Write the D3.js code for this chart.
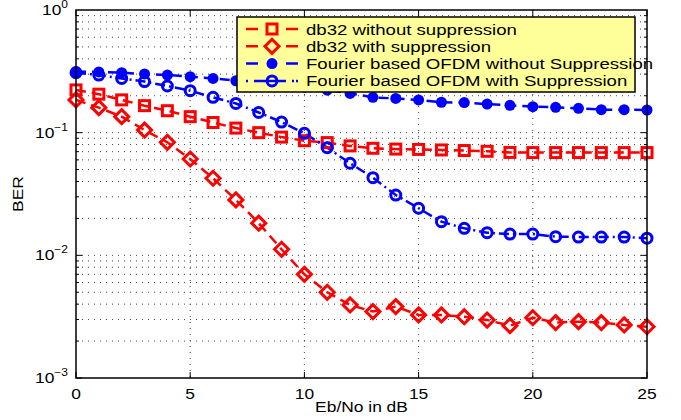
<!DOCTYPE html>
<html>
<head>
<script src="https://d3js.org/d3.v7.min.js"></script>
<style>
  body { margin: 0; background: #fff; }
  text { font-family: "Liberation Sans", Arial, sans-serif; fill: #000; }
</style>
</head>
<body>
<script>
// Eb/No values in dB
var ebno = d3.range(0, 26);

// BER
var db32NoSupp = [0.223, 0.206, 0.185, 0.166, 0.151, 0.135, 0.121, 0.109, 0.100, 0.092,
                  0.086, 0.083, 0.078, 0.0746, 0.0735, 0.0730, 0.0723, 0.0715, 0.0705, 0.0690,
                  0.0688, 0.0688, 0.0688, 0.0688, 0.0688, 0.0688];
var db32Supp = [0.185, 0.160, 0.135, 0.105, 0.0835, 0.061, 0.0425, 0.0283, 0.0183, 0.0112,
                0.0070, 0.0050, 0.00394, 0.00348, 0.00382, 0.00327, 0.00327, 0.00316, 0.00297, 0.00267,
                0.0031, 0.00283, 0.00288, 0.00283, 0.00271, 0.00262];
var fourierNoSupp = [0.315, 0.313, 0.308, 0.301, 0.295, 0.286, 0.277, 0.265, 0.255, 0.245,
                     0.235, 0.222, 0.209, 0.194, 0.190, 0.185, 0.177, 0.176, 0.171, 0.167,
                     0.163, 0.161, 0.158, 0.154, 0.154, 0.153];
var fourierSupp = [0.308, 0.295, 0.277, 0.261, 0.240, 0.220, 0.194, 0.173, 0.146, 0.122,
                   0.0988, 0.0755, 0.0563, 0.0430, 0.0310, 0.0242, 0.0188, 0.0166, 0.0153, 0.0149,
                   0.0149, 0.0142, 0.0141, 0.0141, 0.0141, 0.0138];

var xTicks = [0, 5, 10, 15, 20, 25];
var yExps = [0, -1, -2, -3];

var series = [
  {name: "db32 without suppression", values: db32NoSupp, color: "#ff0000", dash: "10,6", legDash: "12,28,12", marker: "square"},
  {name: "db32 with suppression", values: db32Supp, color: "#ff0000", dash: "10,6", legDash: "12,28,12", marker: "diamond"},
  {name: "Fourier based OFDM without Suppression", values: fourierNoSupp, color: "#0000ff", dash: "10,6", legDash: "12,28,12", marker: "dot"},
  {name: "Fourier based OFDM with Suppression", values: fourierSupp, color: "#0000ff", dash: "10,4,2,4", legDash: "2,6,32,6,2", marker: "circle"}
];

var width = 681, height = 420;
var pLeft = 76, pRight = 647, pTop = 10, pBottom = 378;
var stretch = 1.2;

var svg = d3.select("body").append("svg")
    .attr("width", width)
    .attr("height", height);

var x = d3.scaleLinear().domain([0, 25]).range([pLeft, pRight]);
var y = d3.scaleLog().domain([1e-3, 1]).range([pBottom, pTop]);

// text helper: the original font is a bit wider than Liberation Sans
function label(parent, tx, ty, str, anchor, size) {
  return parent.append("text")
      .attr("transform", "translate(" + tx + "," + ty + ") scale(" + stretch + ",1)")
      .attr("text-anchor", anchor)
      .attr("font-size", size)
      .text(str);
}

// grid lines (dotted)
var grid = svg.append("g");
xTicks.slice(1, -1).forEach(function(t) {
  grid.append("line")
      .attr("x1", x(t)).attr("x2", x(t))
      .attr("y1", pTop).attr("y2", pBottom)
      .attr("stroke", "#444").attr("stroke-width", 1)
      .attr("stroke-dasharray", "1,5");
});
var minorY = [];
for (var e = -3; e < 0; e++) {
  for (var m = 1; m < 10; m++) {
    minorY.push(m * Math.pow(10, e));
  }
}
minorY.forEach(function(v) {
  if (v <= 1e-3) return;
  grid.append("line")
      .attr("x1", pLeft).attr("x2", pRight)
      .attr("y1", y(v)).attr("y2", y(v))
      .attr("stroke", "#444").attr("stroke-width", 1)
      .attr("stroke-dasharray", "1,5");
});

// ticks inside on all four sides
var ticks = svg.append("g").attr("stroke", "#000").attr("stroke-width", 1);
xTicks.forEach(function(t) {
  ticks.append("line").attr("x1", x(t)).attr("x2", x(t)).attr("y1", pBottom).attr("y2", pBottom - 6);
  ticks.append("line").attr("x1", x(t)).attr("x2", x(t)).attr("y1", pTop).attr("y2", pTop + 6);
});
minorY.forEach(function(v) {
  var len = (Math.abs(Math.log10(v) - Math.round(Math.log10(v))) < 1e-9) ? 6 : 3;
  ticks.append("line").attr("x1", pLeft).attr("x2", pLeft + len).attr("y1", y(v)).attr("y2", y(v));
  ticks.append("line").attr("x1", pRight).attr("x2", pRight - len).attr("y1", y(v)).attr("y2", y(v));
});

// series lines and markers
var line = d3.line()
    .x(function(d, i) { return x(ebno[i]); })
    .y(function(d) { return y(d); });

series.forEach(function(s) {
  svg.append("path")
      .datum(s.values)
      .attr("fill", "none")
      .attr("stroke", s.color)
      .attr("stroke-width", 2.5)
      .attr("stroke-dasharray", s.dash)
      .attr("d", line);
});

function drawMarker(g, type, cx, cy, color) {
  if (type === "square") {
    g.append("rect").attr("x", cx - 5).attr("y", cy - 5).attr("width", 10).attr("height", 10)
        .attr("fill", "none").attr("stroke", color).attr("stroke-width", 3);
  } else if (type === "diamond") {
    g.append("path").attr("d", "M" + cx + "," + (cy - 7) + "L" + (cx + 7) + "," + cy + "L" + cx + "," + (cy + 7) + "L" + (cx - 7) + "," + cy + "Z")
        .attr("fill", "none").attr("stroke", color).attr("stroke-width", 3);
  } else if (type === "dot") {
    g.append("circle").attr("cx", cx).attr("cy", cy).attr("r", 5.5).attr("fill", color);
  } else {
    g.append("circle").attr("cx", cx).attr("cy", cy).attr("r", 5)
        .attr("fill", "none").attr("stroke", color).attr("stroke-width", 3);
  }
}

series.forEach(function(s) {
  var g = svg.append("g");
  s.values.forEach(function(v, i) {
    drawMarker(g, s.marker, x(ebno[i]), y(v), s.color);
  });
});

// axes box
svg.append("rect")
    .attr("x", pLeft).attr("y", pTop)
    .attr("width", pRight - pLeft).attr("height", pBottom - pTop)
    .attr("fill", "none").attr("stroke", "#000").attr("stroke-width", 1.5);

// tick labels
xTicks.forEach(function(t) {
  label(svg, x(t), pBottom + 21, t, "middle", 14.5);
});
yExps.forEach(function(e) {
  var t = label(svg, pLeft - 8, y(Math.pow(10, e)) + 5, "", "end", 14.5);
  t.append("tspan").text("10");
  t.append("tspan").attr("dy", -7).attr("font-size", 10).text(e === 0 ? "0" : "\u2212" + (-e));
});

label(svg, (pLeft + pRight) / 2, 412, "Eb/No in dB", "middle", 14.5);
svg.append("text").attr("transform", "translate(23," + ((pTop + pBottom) / 2) + ") rotate(-90) scale(" + stretch + ",1)")
    .attr("text-anchor", "middle").attr("font-size", 14.5).text("BER");

// legend
var lg = svg.append("g");
lg.append("rect").attr("x", 237).attr("y", 17).attr("width", 398).attr("height", 75)
    .attr("fill", "#ffff99").attr("stroke", "#000").attr("stroke-width", 1.5);
series.forEach(function(s, i) {
  var cy = 29 + i * 17.3;
  lg.append("line").attr("x1", 246).attr("x2", 298).attr("y1", cy).attr("y2", cy)
      .attr("stroke", s.color).attr("stroke-width", 2.5).attr("stroke-dasharray", s.legDash);
  drawMarker(lg, s.marker, 272, cy, s.color);
  label(lg, 306, cy + 5.5, s.name, "start", 15.5);
});
</script>
</body>
</html>
